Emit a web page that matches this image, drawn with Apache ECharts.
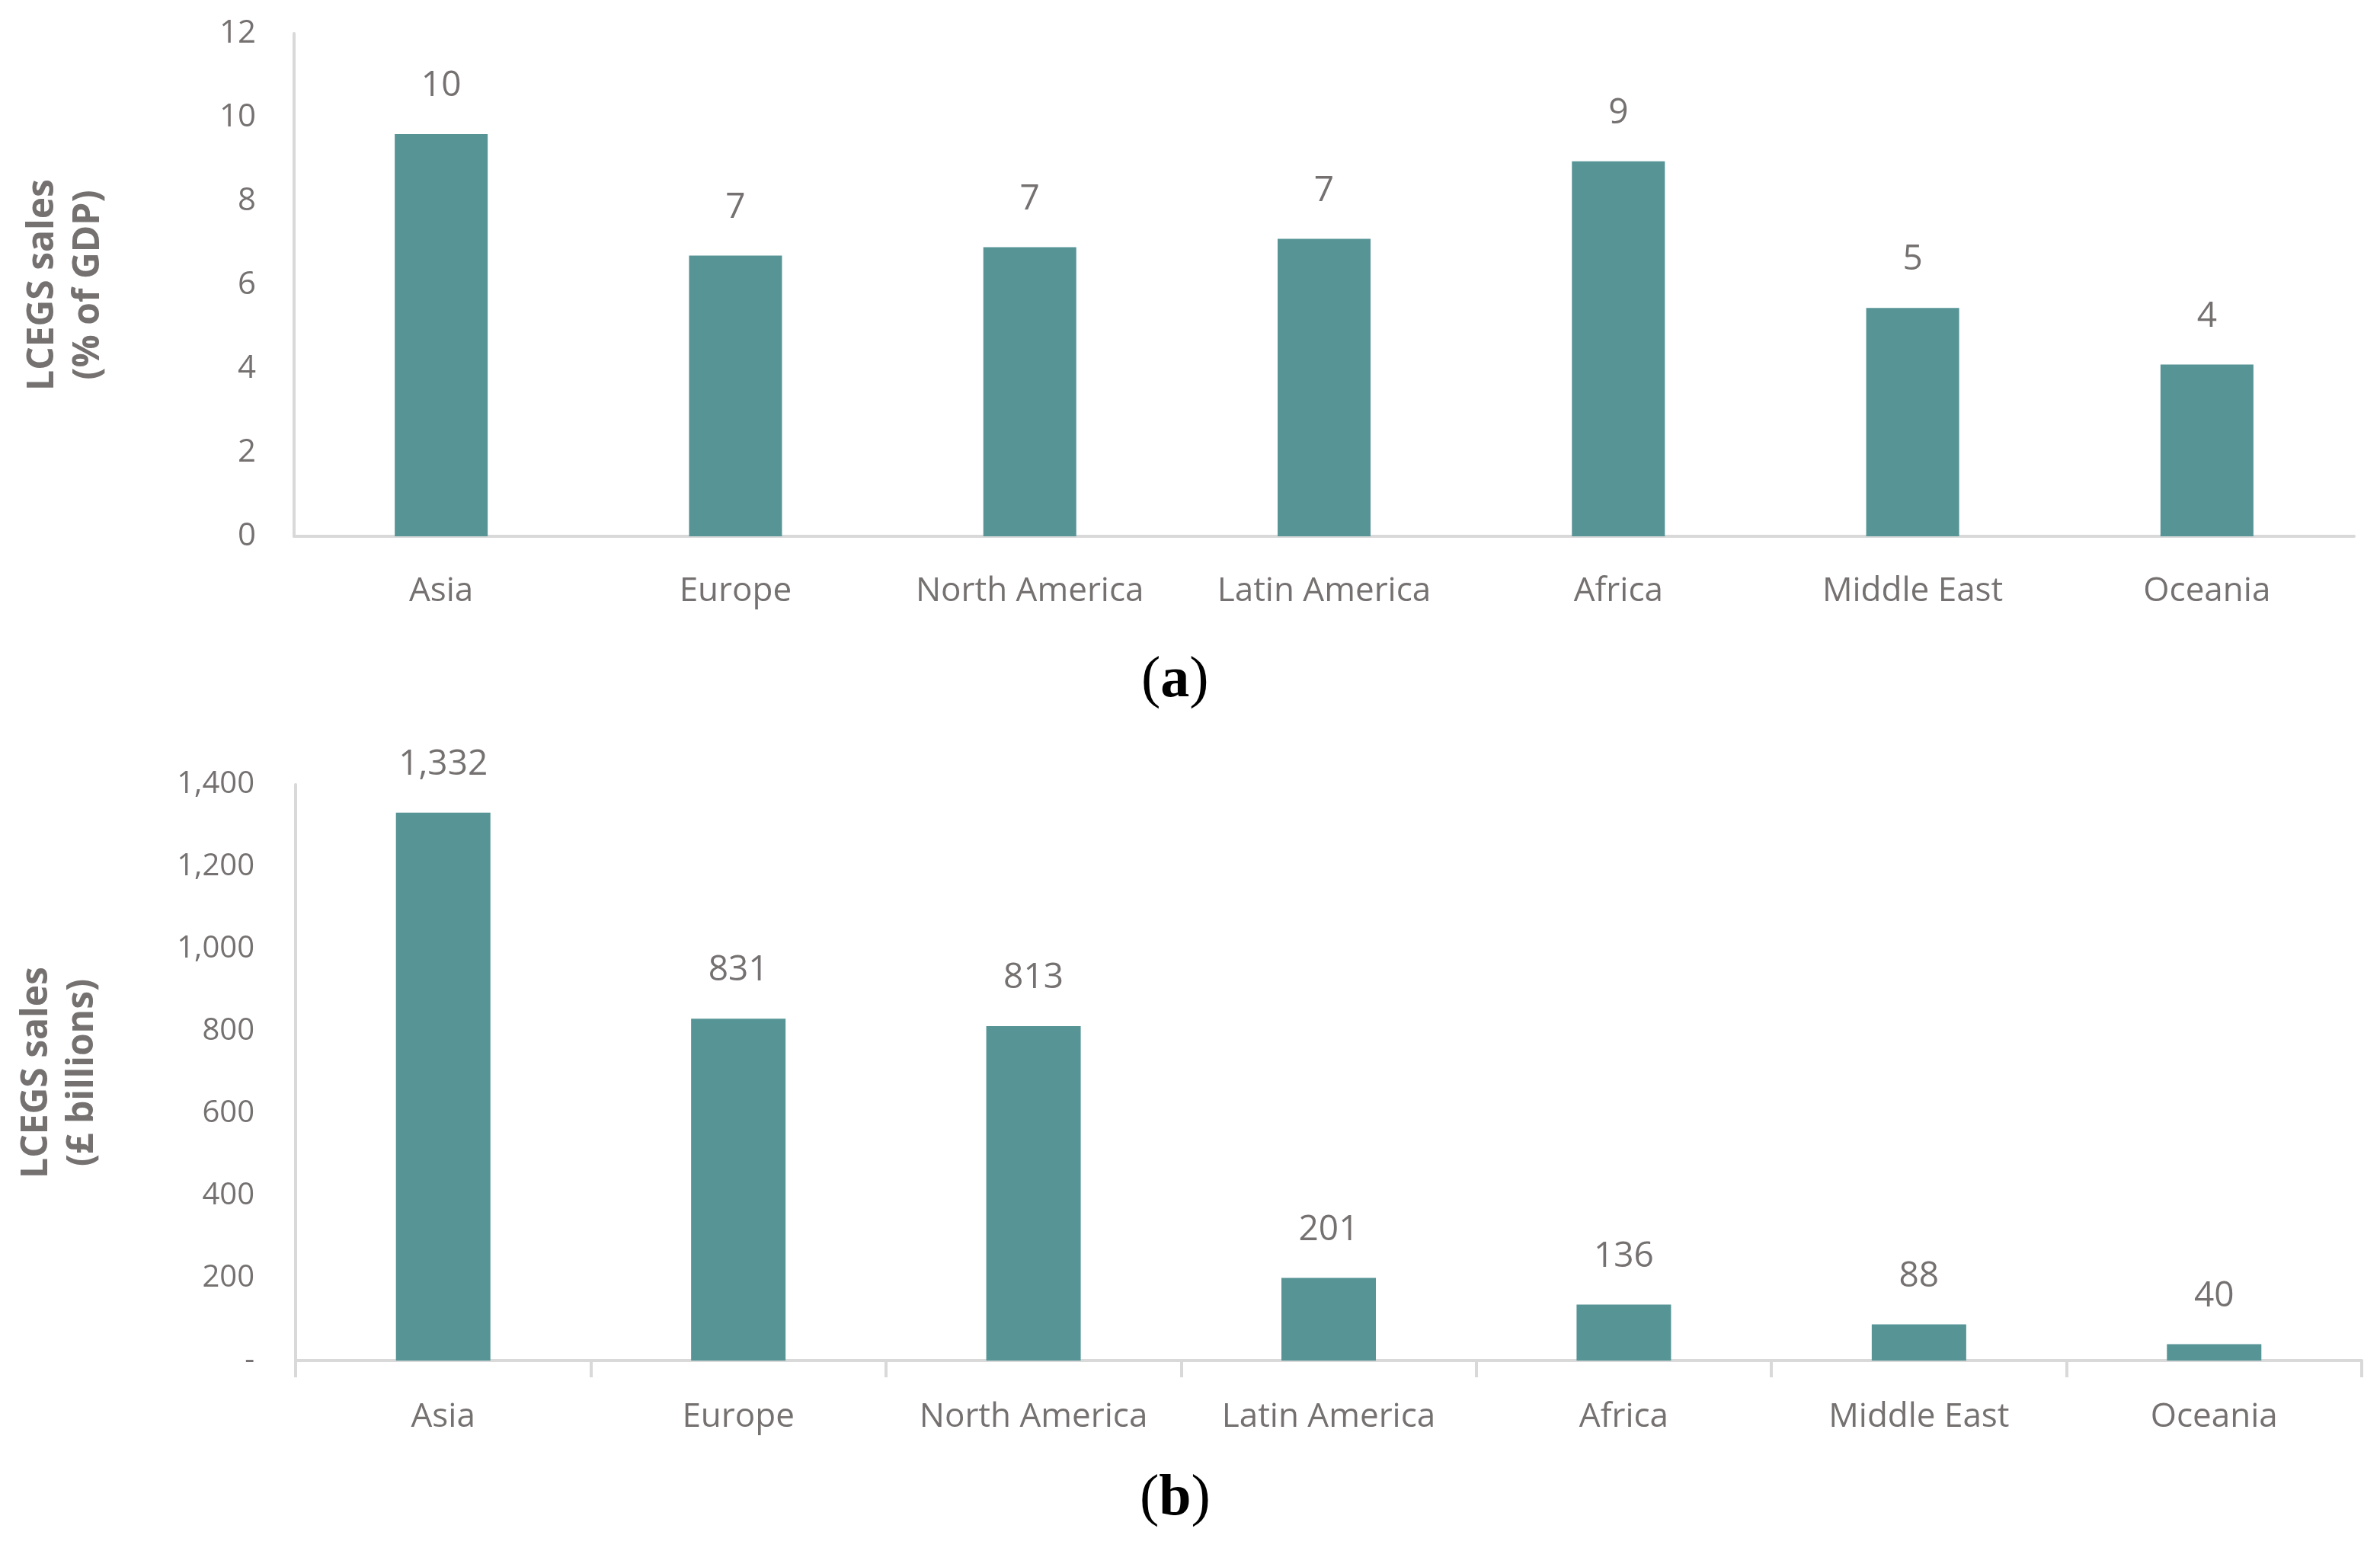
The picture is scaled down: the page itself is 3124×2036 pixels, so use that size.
<!DOCTYPE html>
<html>
<head>
<meta charset="utf-8">
<title>LCEGS sales</title>
<script src="https://cdn.jsdelivr.net/npm/echarts@6/dist/echarts.min.js"></script>
<style>body{margin:0;background:#fff}#main{width:3124px;height:2036px}</style>
</head>
<body>
<div id="main"></div>
<script type="text/javascript">
var regions = ['Asia', 'Europe', 'North America', 'Latin America', 'Africa', 'Middle East', 'Oceania'];
var gdpShare = [9.6, 6.7, 6.9, 7.1, 8.95, 5.45, 4.1];       // % of GDP
var salesBn = [1332, 831, 813, 201, 136, 88, 40];          // £ billions
var ticksA = [0, 2, 4, 6, 8, 10, 12];

var grey = '#767171';
var barColor = '#569496';
var font = 'Open Sans';

var chart = echarts.init(document.getElementById('main'));
chart.setOption({
    animation: false,
    textStyle: { fontFamily: font },
    grid: [
        { left: 386, right: 34, top: 44, height: 660 },
        { left: 388, right: 24, top: 1030, height: 756 }
    ],
    xAxis: [
        {
            gridIndex: 0, type: 'category', data: regions,
            axisLine: { lineStyle: { color: '#d9d9d9', width: 4 } },
            axisTick: { show: false },
            axisLabel: { color: grey, fontSize: 44, margin: 50, interval: 0 }
        },
        {
            gridIndex: 1, type: 'category', data: regions,
            axisLine: { lineStyle: { color: '#d9d9d9', width: 4 } },
            axisTick: { show: true, interval: 0, length: 22, lineStyle: { color: '#d9d9d9', width: 4 } },
            axisLabel: { color: grey, fontSize: 44, margin: 52, interval: 0 }
        }
    ],
    yAxis: [
        {
            gridIndex: 0, type: 'value', min: ticksA[0], max: ticksA[ticksA.length - 1], interval: 2,
            axisLine: { show: true, lineStyle: { color: '#d9d9d9', width: 4 } },
            splitLine: { show: false },
            axisLabel: { color: grey, fontSize: 42, margin: 50 },
            name: 'LCEGS sales\n(% of GDP)', nameLocation: 'middle', nameGap: 240,
            nameTextStyle: { color: grey, fontSize: 48, fontWeight: 'bold', lineHeight: 60 }
        },
        {
            gridIndex: 1, type: 'value', min: 0, max: 1400, interval: 200,
            axisLine: { show: true, lineStyle: { color: '#d9d9d9', width: 4 } },
            splitLine: { show: false },
            axisLabel: {
                color: grey, fontSize: 40, margin: 54,
                formatter: function (v) { return v === 0 ? '-' : v.toLocaleString('en-US'); }
            },
            name: 'LCEGS sales\n(£ billions)', nameLocation: 'middle', nameGap: 250,
            nameTextStyle: { color: grey, fontSize: 48, fontWeight: 'bold', lineHeight: 60 }
        }
    ],
    series: [
        {
            type: 'bar', xAxisIndex: 0, yAxisIndex: 0, data: gdpShare,
            barWidth: 122, itemStyle: { color: barColor },
            label: {
                show: true, position: 'top', distance: 40, color: grey, fontSize: 46,
                formatter: function (p) { return Math.round(p.value); }
            }
        },
        {
            type: 'bar', xAxisIndex: 1, yAxisIndex: 1, data: salesBn,
            barWidth: 124, itemStyle: { color: barColor },
            label: {
                show: true, position: 'top', distance: 40, color: grey, fontSize: 46,
                formatter: function (p) { return p.value.toLocaleString('en-US'); }
            }
        }
    ],
    graphic: [
        {
            type: 'text', left: 1498, top: 856,
            style: { text: '{n|(}{b|a}{n|)}', rich: {
                n: { fontFamily: 'Liberation Serif', fontSize: 76, fill: '#000' },
                b: { fontFamily: 'Liberation Serif', fontSize: 76, fontWeight: 'bold', fill: '#000' }
            } }
        },
        {
            type: 'text', left: 1496, top: 1930,
            style: { text: '{n|(}{b|b}{n|)}', rich: {
                n: { fontFamily: 'Liberation Serif', fontSize: 76, fill: '#000' },
                b: { fontFamily: 'Liberation Serif', fontSize: 76, fontWeight: 'bold', fill: '#000' }
            } }
        }
    ]
});
</script>
</body>
</html>
